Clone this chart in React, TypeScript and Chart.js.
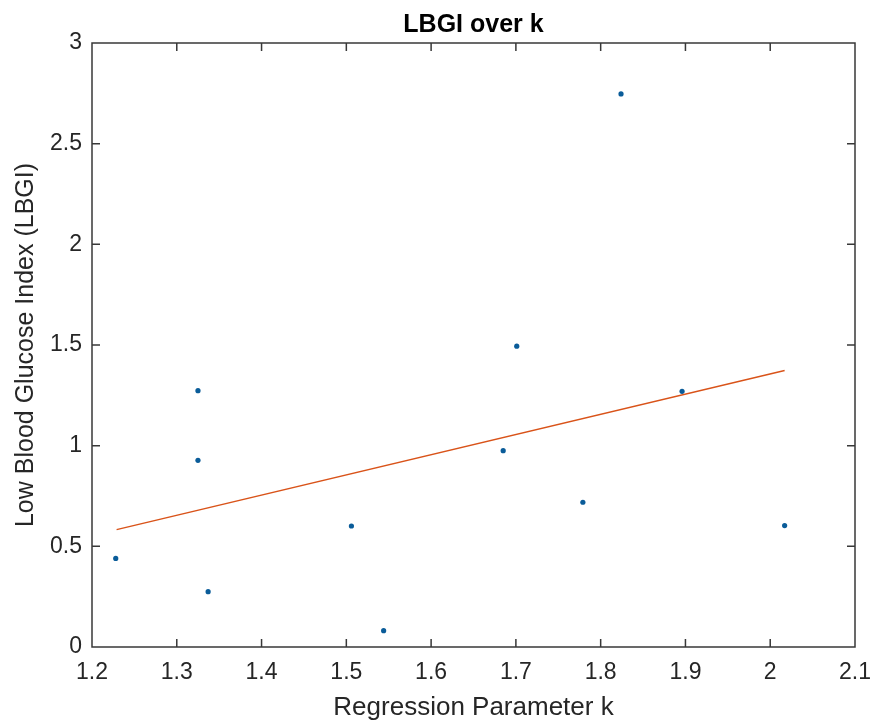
import React, { useEffect, useRef } from 'react';
import { Chart, registerables } from 'chart.js';

Chart.register(...registerables);

// Data
const kValues = [1.228, 1.325, 1.325, 1.337, 1.506, 1.544, 1.685, 1.701, 1.779, 1.824, 1.896, 2.017];
const lbgiValues = [0.44, 1.273, 0.927, 0.275, 0.601, 0.081, 0.975, 1.494, 0.719, 2.747, 1.27, 0.603];
const fitK = [1.229, 2.017];
const fitLBGI = [0.583, 1.373];

const xTicks = [1.2, 1.3, 1.4, 1.5, 1.6, 1.7, 1.8, 1.9, 2, 2.1];
const xTickLabels = ['1.2', '1.3', '1.4', '1.5', '1.6', '1.7', '1.8', '1.9', '2', '2.1'];
const yTicks = [0, 0.5, 1, 1.5, 2, 2.5, 3];
const yTickLabels = ['0', '0.5', '1', '1.5', '2', '2.5', '3'];

const TITLE = 'LBGI over k';
const X_LABEL = 'Regression Parameter k';
const Y_LABEL = 'Low Blood Glucose Index (LBGI)';

const FONT = "'Liberation Sans', Arial, Helvetica, sans-serif";
const AXIS_COLOR = '#262626';

const boxPlugin = {
  id: 'matlabBox',
  afterLayout(chart: any) {
    const tb = chart.titleBlock;
    if (tb) {
      tb.left = chart.chartArea.left;
      tb.right = chart.chartArea.right;
      tb.width = tb.right - tb.left;
    }
  },
  afterDatasetsDraw(chart: any) {
    const { ctx, chartArea } = chart;
    const { left, right, top, bottom } = chartArea;
    const xs = chart.scales.x;
    const ys = chart.scales.y;
    const tl = 8;
    ctx.save();
    ctx.strokeStyle = '#383838';
    ctx.lineWidth = 1.5;
    ctx.beginPath();
    ctx.rect(left, top, right - left, bottom - top);
    for (const t of xs.ticks) {
      const px = xs.getPixelForValue(t.value);
      ctx.moveTo(px, bottom);
      ctx.lineTo(px, bottom - tl);
      ctx.moveTo(px, top);
      ctx.lineTo(px, top + tl);
    }
    for (const t of ys.ticks) {
      const py = ys.getPixelForValue(t.value);
      ctx.moveTo(left, py);
      ctx.lineTo(left + tl, py);
      ctx.moveTo(right, py);
      ctx.lineTo(right - tl, py);
    }
    ctx.stroke();
    ctx.restore();
  },
};

export default function App() {
  const canvasRef = useRef<HTMLCanvasElement | null>(null);

  useEffect(() => {
    document.body.style.margin = '0';
    const canvas = canvasRef.current;
    if (!canvas) return;
    const chart = new Chart(canvas, {
      type: 'scatter',
      data: {
        datasets: [
          {
            type: 'line',
            label: 'fit',
            data: fitK.map((k, i) => ({ x: k, y: fitLBGI[i] })),
            borderColor: '#D95319',
            borderWidth: 1.5,
            pointRadius: 0,
            fill: false,
            showLine: true,
          } as any,
          {
            label: 'LBGI',
            data: kValues.map((k, i) => ({ x: k, y: lbgiValues[i] })),
            backgroundColor: '#0a5c99',
            borderWidth: 0,
            pointRadius: 2.6,
          },
        ],
      },
      options: {
        animation: false,
        responsive: false,
        devicePixelRatio: 1,
        layout: { padding: { left: 0, right: 17, top: 0, bottom: 0 } },
        plugins: {
          legend: { display: false },
          tooltip: { enabled: false },
          title: {
            display: true,
            text: TITLE,
            color: '#000000',
            font: { family: FONT, size: 25, weight: 'bold', lineHeight: 1.2 },
            padding: { top: 10, bottom: 3 },
          },
        },
        scales: {
          x: {
            type: 'linear',
            min: 1.2,
            max: 2.1,
            afterBuildTicks: (scale: any) => {
              scale.ticks = xTicks.map((v) => ({ value: v }));
            },
            afterFit: (scale: any) => {
              scale.height = 78;
              scale.paddingLeft = 0;
              scale.paddingRight = 0;
            },
            grid: { display: false, drawTicks: false },
            border: { display: false },
            ticks: {
              color: AXIS_COLOR,
              font: { family: FONT, size: 23, lineHeight: 1.2 },
              padding: 12,
              maxRotation: 0,
              autoSkip: false,
              callback: (value: any) => {
                const i = xTicks.findIndex((v) => Math.abs(v - Number(value)) < 1e-9);
                return i >= 0 ? xTickLabels[i] : '';
              },
            },
            title: {
              display: true,
              text: X_LABEL,
              color: AXIS_COLOR,
              font: { family: FONT, size: 26, lineHeight: 1.2 },
              padding: { top: 0, bottom: 2 },
            },
          },
          y: {
            type: 'linear',
            min: 0,
            max: 3,
            afterBuildTicks: (scale: any) => {
              scale.ticks = yTicks.map((v) => ({ value: v }));
            },
            afterFit: (scale: any) => {
              scale.width = 92;
              scale.paddingTop = 0;
              scale.paddingBottom = 0;
            },
            grid: { display: false, drawTicks: false },
            border: { display: false },
            ticks: {
              color: AXIS_COLOR,
              font: { family: FONT, size: 23, lineHeight: 1.2 },
              padding: 10,
              autoSkip: false,
              callback: (value: any) => {
                const i = yTicks.findIndex((v) => Math.abs(v - Number(value)) < 1e-9);
                return i >= 0 ? yTickLabels[i] : '';
              },
            },
            title: {
              display: true,
              text: Y_LABEL,
              color: AXIS_COLOR,
              font: { family: FONT, size: 25, lineHeight: 1.2 },
              padding: { top: 11, bottom: 0 },
            },
          },
        },
      },
      plugins: [boxPlugin],
    });
    return () => chart.destroy();
  }, []);

  return (
    <canvas
      ref={canvasRef}
      width={872}
      height={725}
      style={{ display: 'block', width: '872px', height: '725px' }}
    />
  );
}
